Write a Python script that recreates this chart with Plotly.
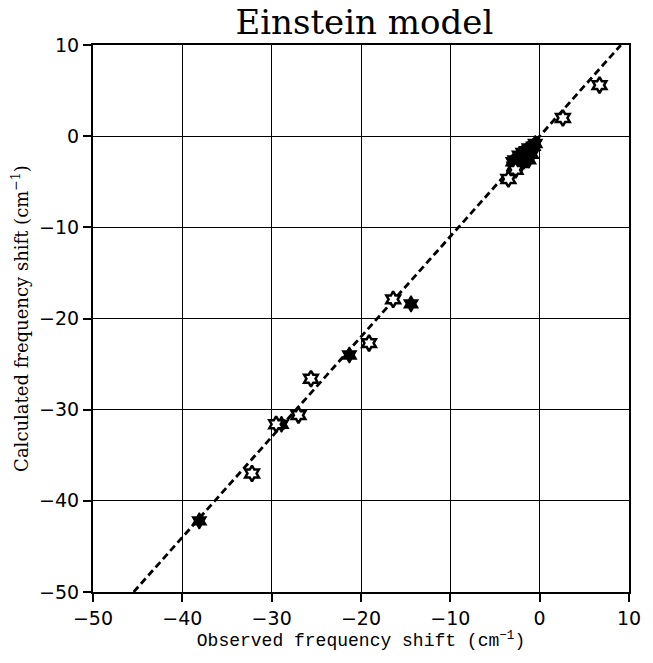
import plotly.graph_objects as go

# Data
open_x = [6.7, 2.6, -2.7, -3.5, -16.4, -19.1, -25.6, -27.0, -29.5, -32.2]
open_y = [5.6, 2.0, -3.7, -4.7, -17.9, -22.7, -26.6, -30.6, -31.6, -37.0]

filled_x = [-0.5, -0.7, -1.2, -1.5, -1.9, -1.6, -2.3, -2.4, -2.8, -2.5, -2.9,
            -0.9, -1.2, -3.0, -2.0,
            -14.4, -21.3, -28.9, -38.1]
filled_y = [-0.8, -1.1, -1.3, -1.6, -1.8, -2.2, -2.1, -2.6, -2.6, -3.1, -3.3,
            -2.0, -2.6, -2.8, -3.0,
            -18.4, -24.0, -31.6, -42.2]

fit_slope = 1.1
fit_x = [-45.45, 9.09]
fit_y = [fit_slope * v for v in fit_x]

tick_vals = [-50, -40, -30, -20, -10, 0, 10]
tick_text = ["\u221250", "\u221240", "\u221230", "\u221220", "\u221210", "0", "10"]

fig = go.Figure()
fig.add_trace(go.Scatter(x=fit_x, y=fit_y, mode="lines",
                         line=dict(color="black", width=2.8, dash="7px,4px"),
                         showlegend=False, hoverinfo="skip"))
fig.add_trace(go.Scatter(x=filled_x, y=filled_y, mode="markers",
                         marker=dict(symbol="hexagram", size=12, color="black",
                                     line=dict(color="black", width=1.5)),
                         showlegend=False))
fig.add_trace(go.Scatter(x=open_x, y=open_y, mode="markers",
                         marker=dict(symbol="hexagram", size=12, color="white",
                                     line=dict(color="black", width=2.5)),
                         showlegend=False))

axis_common = dict(
    range=[-50, 10], tickvals=tick_vals, ticktext=tick_text,
    showgrid=True, gridcolor="black", gridwidth=1,
    showline=True, linecolor="black", linewidth=2, mirror=True,
    ticks="outside", ticklen=8, tickwidth=1.5, tickcolor="black",
    zeroline=False,
    tickfont=dict(family="DejaVu Sans, Verdana, sans-serif", size=19, color="black"),
)

fig.update_layout(
    width=653, height=663,
    margin=dict(l=93, r=20, t=45, b=71),
    paper_bgcolor="white", plot_bgcolor="white",
    title=dict(text="Einstein model", x=0.558, xanchor="center", y=0.966, yanchor="middle",
               font=dict(family="DejaVu Serif, Liberation Serif, serif", size=34, color="black")),
    xaxis=dict(axis_common,
               title=dict(text="Observed frequency shift (cm<sup>\u22121</sup>)", standoff=6,
                          font=dict(family="Liberation Mono, Courier New, monospace",
                                    size=18, color="black"))),
    yaxis=dict(axis_common,
               title=dict(text="Calculated frequency shift (cm<sup>\u22121</sup>)", standoff=6,
                          font=dict(family="DejaVu Serif, Liberation Serif, serif",
                                    size=18, color="black"))),
)

fig.write_html("out.html")
